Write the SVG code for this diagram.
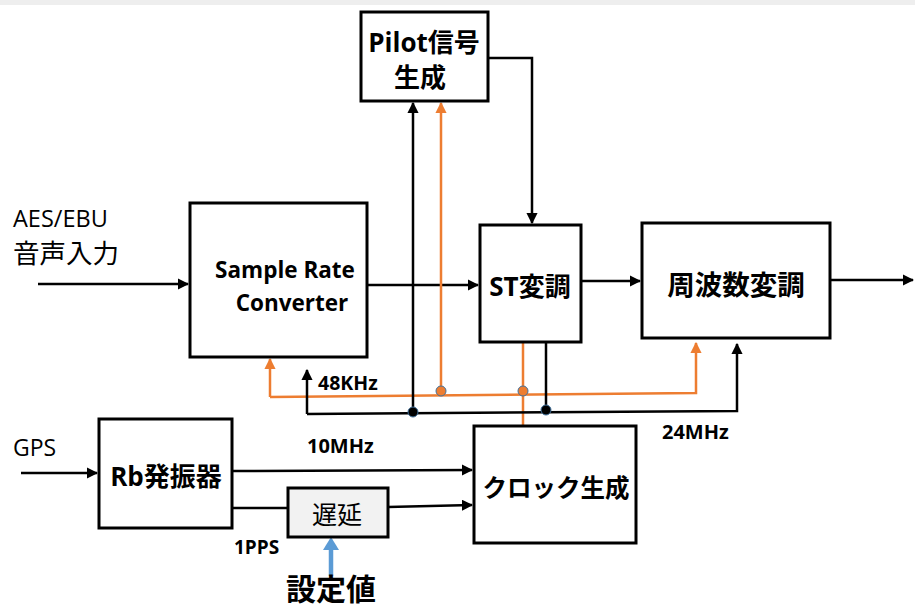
<svg xmlns="http://www.w3.org/2000/svg" width="915" height="610" viewBox="0 0 915 610">
<defs>
<style>
.box{fill:#fff;stroke:#000;stroke-width:3}
.ln{fill:none;stroke:#000;stroke-width:2.5}
.or{fill:none;stroke:#ed7d31;stroke-width:2.5}
.t{font-family:"Open Sans","Noto Sans CJK JP",sans-serif;font-weight:bold;fill:#000}
.r{font-family:"Open Sans","Noto Sans CJK JP",sans-serif;fill:#000}
</style>
<marker id="ab" viewBox="0 0 10 10" refX="9" refY="5" markerWidth="4.5" markerHeight="4.5" orient="auto" markerUnits="strokeWidth"><path d="M0,0L10,5L0,10z" fill="#000"/></marker>
<marker id="ao" viewBox="0 0 10 10" refX="9" refY="5" markerWidth="4.5" markerHeight="4.5" orient="auto" markerUnits="strokeWidth"><path d="M0,0L10,5L0,10z" fill="#ed7d31"/></marker>
</defs>
<rect x="0" y="0" width="915" height="5" fill="#eeeeee"/>
<g id="connectors">
<path class="ln" d="M38,284H188" marker-end="url(#ab)"/>
<path class="ln" d="M367,285H478" marker-end="url(#ab)"/>
<path class="ln" d="M581,281H640" marker-end="url(#ab)"/>
<path class="ln" d="M830,280H913" marker-end="url(#ab)"/>
<path class="ln" d="M488,58H532V223" marker-end="url(#ab)"/>
<path class="or" d="M270,397V359" marker-end="url(#ao)"/>
<path class="or" d="M270,397L696,393V343" marker-end="url(#ao)"/>
<path class="or" d="M441,391V103" marker-end="url(#ao)"/>
<path class="or" d="M523,342V425"/>
<path class="ln" d="M307,414V370" marker-end="url(#ab)"/>
<path class="ln" d="M307,414L737,411V344" marker-end="url(#ab)"/>
<path class="ln" d="M413,412V103" marker-end="url(#ab)"/>
<path class="ln" d="M546,342V410"/>
<circle cx="441" cy="391" r="5" fill="#ed7d31" stroke="#41719c" stroke-width="1"/>
<circle cx="523" cy="391" r="5" fill="#ed7d31" stroke="#41719c" stroke-width="1"/>
<circle cx="413" cy="412" r="5" fill="#000" stroke="#41719c" stroke-width="1"/>
<circle cx="546" cy="410" r="5" fill="#000" stroke="#41719c" stroke-width="1"/>
<path class="ln" d="M21,473H97" marker-end="url(#ab)"/>
<path class="ln" d="M232,471L472,470" marker-end="url(#ab)"/>
<path class="ln" d="M232,508H288"/>
<path class="ln" d="M388,507L472,505" marker-end="url(#ab)"/>
<path d="M331,576V548" stroke="#5b9bd5" stroke-width="4.5" fill="none"/>
<path d="M323,550L331,537L339,550z" fill="#5b9bd5"/>
</g>
<g id="pilot"><rect class="box" x="361" y="12" width="127" height="89"/>
<text class="t" x="424" y="52" font-size="26" text-anchor="middle">Pilot信号</text>
<text class="t" x="420" y="87" font-size="26" text-anchor="middle">生成</text></g>
<g id="src"><rect class="box" x="190" y="203" width="177" height="154"/>
<text class="t" x="285" y="278" font-size="22.5" text-anchor="middle">Sample Rate</text>
<text class="t" x="292" y="311" font-size="22.5" text-anchor="middle">Converter</text></g>
<g id="st"><rect class="box" x="480" y="225" width="101" height="117"/>
<text class="t" x="530" y="296" font-size="26" text-anchor="middle">ST変調</text></g>
<g id="fm"><rect class="box" x="642" y="223" width="188" height="115"/>
<text class="t" x="736" y="295" font-size="27.5" text-anchor="middle">周波数変調</text></g>
<g id="rb"><rect class="box" x="99" y="419" width="133" height="109"/>
<text class="t" x="166" y="486" font-size="26" text-anchor="middle">Rb発振器</text></g>
<g id="clock"><rect class="box" x="474" y="426" width="162" height="117"/>
<text class="t" x="556" y="497" font-size="24.5" text-anchor="middle">クロック生成</text></g>
<g id="delay"><rect x="288" y="488" width="100" height="49" fill="#f2f2f2" stroke="#000" stroke-width="3"/>
<text class="r" x="337" y="524" font-size="25" text-anchor="middle">遅延</text></g>
<g id="labels">
<text class="r" x="13" y="227" font-size="23.5">AES/EBU</text>
<text class="r" x="13" y="263" font-size="26.5">音声入力</text>
<text class="r" x="13" y="456" font-size="23">GPS</text>
<text class="t" x="318" y="390" font-size="19.5">48KHz</text>
<text class="t" x="307" y="453" font-size="20">10MHz</text>
<text class="t" x="662" y="439" font-size="20">24MHz</text>
<text class="t" x="234" y="554" font-size="19">1PPS</text>
<text class="t" x="286" y="600" font-size="30">設定値</text>
</g>
</svg>
